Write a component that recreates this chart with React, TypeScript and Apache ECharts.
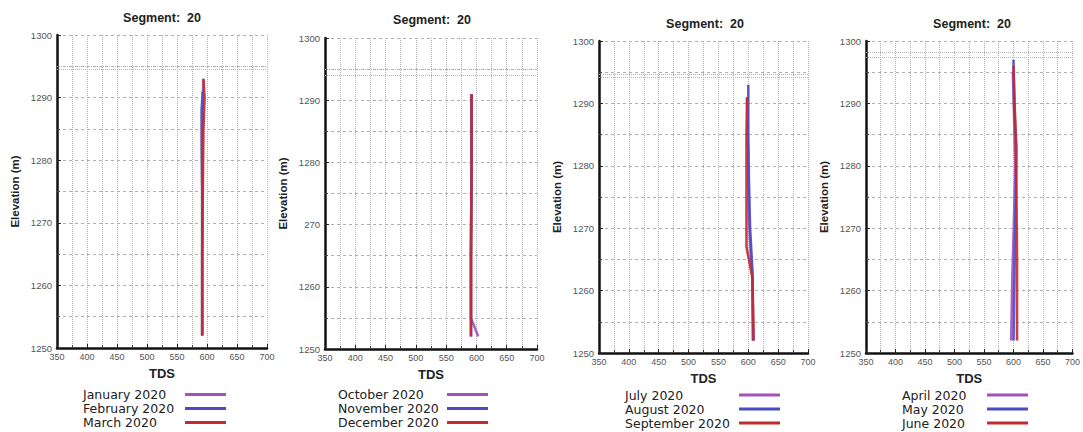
import React, { useEffect, useRef } from "react";
import * as echarts from "echarts";

const TITLE = "Segment:  20";
const X_NAME = "TDS";
const Y_NAME = "Elevation (m)";
const Y_LABELS_STD = ["1250", "1260", "1270", "1280", "1290", "1300"];
const Y_LABELS_P2 = ["1250", "1260", "270", "1280", "1290", "1300"];

const PANEL1_NAMES = ["January 2020", "February 2020", "March 2020"];
const PANEL2_NAMES = ["October 2020", "November 2020", "December 2020"];
const PANEL3_NAMES = ["July 2020", "August 2020", "September 2020"];
const PANEL4_NAMES = ["April 2020", "May 2020", "June 2020"];

// Panel 1
const janTds = [594, 593, 592, 592, 592, 592];
const janElev = [1293, 1290, 1280, 1270, 1260, 1252];
const febTds = [593, 591, 591, 592, 592, 592];
const febElev = [1291, 1288, 1282, 1275, 1265, 1252];
const marTds = [594, 596, 594, 593, 592, 592];
const marElev = [1293, 1290, 1285, 1275, 1265, 1252];
// Panel 2
const octTds = [592, 592, 591, 591, 603];
const octElev = [1291, 1280, 1265, 1255, 1252];
const novTds = [592, 592, 591, 591];
const novElev = [1291, 1280, 1265, 1252];
const decTds = [592, 592, 591, 591];
const decElev = [1291, 1280, 1265, 1252];
// Panel 3
const julTds = [598, 599, 600, 601, 604, 607, 608];
const julElev = [1291, 1285, 1278, 1272, 1266, 1262, 1252];
const augTds = [600, 600, 601, 603, 607, 608];
const augElev = [1293, 1285, 1278, 1270, 1263, 1252];
const sepTds = [598, 597, 597, 597, 597, 607, 609];
const sepElev = [1291, 1285, 1275, 1270, 1267, 1262, 1252];
// Panel 4
const aprTds = [599, 601, 603, 601, 598, 596];
const aprElev = [1295, 1288, 1280, 1272, 1262, 1252];
const mayTds = [600, 601, 605, 604, 602, 600];
const mayElev = [1297, 1290, 1283, 1275, 1265, 1252];
const junTds = [600, 602, 604, 605, 606, 606];
const junElev = [1296, 1290, 1283, 1275, 1265, 1252];

// faint reference levels near the top of each panel
const LEVELS_P1 = [1295, 1294.5];
const LEVELS_P2 = [1295, 1294];
const LEVELS_P3 = [1294.7, 1294.2];
const LEVELS_P4 = [1298.2, 1297.4];

const COLORS = ["#a352bd", "#4b4bc4", "#c42a2e"];

const PANELS = [
  { left: 57, top: 35, width: 210, height: 313, names: PANEL1_NAMES, yLabels: Y_LABELS_STD, levels: LEVELS_P1,
    data: [[janTds, janElev], [febTds, febElev], [marTds, marElev]],
    titleX: 162, titleY: 18, legendLeft: 83, legendTop: 388, textW: 97 },
  { left: 325, top: 38, width: 212, height: 311, names: PANEL2_NAMES, yLabels: Y_LABELS_P2, levels: LEVELS_P2,
    data: [[octTds, octElev], [novTds, novElev], [decTds, decElev]],
    titleX: 432, titleY: 20, legendLeft: 338, legendTop: 388, textW: 104 },
  { left: 599, top: 41, width: 209, height: 312, names: PANEL3_NAMES, yLabels: Y_LABELS_STD, levels: LEVELS_P3,
    data: [[julTds, julElev], [augTds, augElev], [sepTds, sepElev]],
    titleX: 705, titleY: 24, legendLeft: 625, legendTop: 388.5, textW: 109 },
  { left: 866, top: 41, width: 211, height: 312, names: PANEL4_NAMES, yLabels: Y_LABELS_STD, levels: LEVELS_P4,
    data: [[aprTds, aprElev], [mayTds, mayElev], [junTds, junElev]],
    titleX: 972, titleY: 24, legendLeft: 902, legendTop: 388.5, textW: 80 },
];

export default function App() {
  const ref = useRef<HTMLDivElement>(null);
  useEffect(() => {
    if (!ref.current) return;
    const chart = echarts.init(ref.current, undefined, { renderer: "svg" });
    const grid: any[] = [];
    const xAxis: any[] = [];
    const yAxis: any[] = [];
    const series: any[] = [];
    const legend: any[] = [];
    const graphic: any[] = [];
    PANELS.forEach((p, i) => {
      grid.push({ left: p.left, top: p.top, width: p.width, height: p.height });
      xAxis.push({
        type: "value", gridIndex: i, min: 350, max: 700, interval: 50,
        name: X_NAME, nameLocation: "middle", nameGap: 19,
        nameTextStyle: { fontFamily: "Liberation Sans", fontWeight: "bold", fontSize: 13, color: "#222" },
        axisLine: { show: true, lineStyle: { color: "#111", width: 2.5 } },
        axisTick: { show: true, inside: true, length: 4, lineStyle: { color: "#222" } },
        minorTick: { show: true, splitNumber: 2, length: 3, lineStyle: { color: "#444" } },
        axisLabel: { fontFamily: "Liberation Sans", fontSize: 9, color: "#555", margin: 4 },
        splitLine: { show: true, lineStyle: { type: "dotted", color: "#b0b0b0", width: 1 } },
        minorSplitLine: { show: true, lineStyle: { type: "dotted", color: "#b0b0b0", width: 1 } },
      });
      const labels = p.yLabels;
      yAxis.push({
        type: "value", gridIndex: i, min: 1250, max: 1300, interval: 10,
        name: Y_NAME, nameLocation: "middle", nameGap: 36,
        nameTextStyle: { fontFamily: "Liberation Sans", fontWeight: "bold", fontSize: 11.5, color: "#222" },
        axisLine: { show: true, lineStyle: { color: "#111", width: 2.5 } },
        axisTick: { show: true, inside: true, length: 4, lineStyle: { color: "#222" } },
        minorTick: { show: true, splitNumber: 2, length: 3, lineStyle: { color: "#444" } },
        axisLabel: {
          fontFamily: "Liberation Sans", fontSize: 9.5, color: "#555", margin: 5,
          formatter: (v: number) => labels[Math.round((v - 1250) / 10)] ?? String(v),
        },
        splitLine: { show: true, lineStyle: { type: [3, 3], color: "#b0b0b0", width: 1 } },
        minorSplitLine: { show: true, lineStyle: { type: [3, 3], color: "#b0b0b0", width: 1 } },
      });
      p.data.forEach(([xs, ys], k) => {
        const s: any = {
          type: "line", name: p.names[k], xAxisIndex: i, yAxisIndex: i,
          data: xs.map((x: number, j: number) => [x, ys[j]]),
          showSymbol: false, symbol: "none", color: COLORS[k],
          lineStyle: { color: COLORS[k], width: 2.6, opacity: 0.9 }, z: 3 + k,
        };
        if (k === 0) {
          s.markLine = {
            silent: true, symbol: ["none", "none"], label: { show: false },
            lineStyle: { type: "dotted", color: "#b5b5b5", width: 1 },
            data: p.levels.map((v) => ({ yAxis: v })),
          };
        }
        series.push(s);
      });
      legend.push({
        data: p.names, orient: "vertical", left: p.legendLeft, top: p.legendTop,
        height: 60,
        align: "right", icon: "rect", itemWidth: 41, itemHeight: 3, itemGap: 1,
        selectedMode: false,
        formatter: "{n|{name}}",
        textStyle: {
          fontFamily: "DejaVu Sans", fontSize: 12, color: "#222",
          rich: { n: { width: p.textW, align: "left", fontFamily: "DejaVu Sans", fontSize: 12.5, color: "#222", lineHeight: 14 } },
        },
        padding: 0,
      });
      graphic.push({
        type: "text", x: p.titleX, y: p.titleY,
        style: { text: TITLE, fill: "#222", font: "bold 12.5px 'Liberation Sans'", textAlign: "center", textVerticalAlign: "middle" },
      });
    });
    chart.setOption({
      animation: false,
      backgroundColor: "#ffffff",
      grid, xAxis, yAxis, series, legend, graphic,
    });
    return () => chart.dispose();
  }, []);
  return <div ref={ref} style={{ position: "fixed", left: 0, top: 0, width: 1083, height: 432 }} />;
}
